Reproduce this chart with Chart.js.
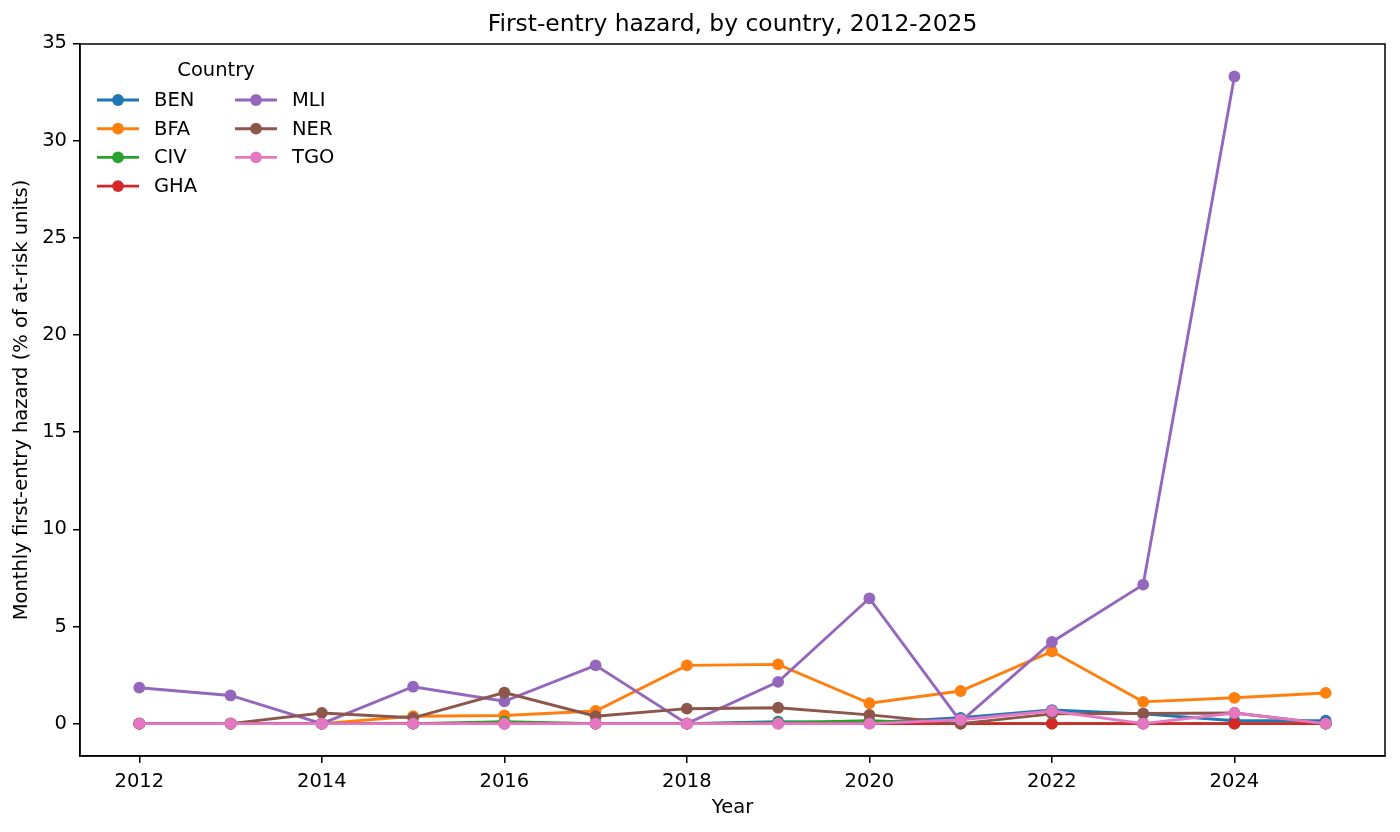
<!DOCTYPE html>
<html>
<head>
<meta charset="utf-8">
<script src="https://cdn.jsdelivr.net/npm/chart.js@4.4.1/dist/chart.umd.min.js"></script>
<style>
  html, body { margin: 0; padding: 0; background: #fff; }
  #wrap { width: 1400px; height: 832px; }
</style>
</head>
<body>
<div id="wrap"><canvas id="hazardChart" width="1400" height="832"></canvas></div>
<script>
// ---- data ----
var years = [2012, 2013, 2014, 2015, 2016, 2017, 2018, 2019, 2020, 2021, 2022, 2023, 2024, 2025];
var countries = ['BEN', 'BFA', 'CIV', 'GHA', 'MLI', 'NER', 'TGO'];
var colors = ['#1f77b4', '#ff7f0e', '#2ca02c', '#d62728', '#9467bd', '#8c564b', '#e377c2'];

var benValues = [0, 0, 0, 0, 0, 0, 0, 0.1, 0.05, 0.3, 0.7, 0.5, 0.15, 0.15];
var bfaValues = [0, 0, 0, 0.38, 0.42, 0.65, 3.0, 3.05, 1.05, 1.68, 3.72, 1.12, 1.33, 1.58];
var civValues = [0, 0, 0, 0, 0.1, 0, 0, 0.05, 0.15, 0, 0, 0, 0, 0];
var ghaValues = [0, 0, 0, 0, 0, 0, 0, 0, 0, 0, 0, 0, 0, 0];
var mliValues = [1.85, 1.45, 0, 1.9, 1.15, 3.0, 0, 2.15, 6.45, 0.1, 4.2, 7.15, 33.3, null];
var nerValues = [0, 0, 0.55, 0.3, 1.6, 0.38, 0.77, 0.82, 0.45, 0, 0.5, 0.52, 0.55, 0];
var tgoValues = [0, 0, 0, 0, 0, 0, 0, 0, 0, 0.2, 0.65, 0, 0.55, 0];

var yTickValues = [0, 5, 10, 15, 20, 25, 30, 35];
var xTickValues = [2012, 2014, 2016, 2018, 2020, 2022, 2024];

var chartTitle = 'First-entry hazard, by country, 2012-2025';
var seriesValues = [benValues, bfaValues, civValues, ghaValues, mliValues, nerValues, tgoValues];
var FONT = "'DejaVu Sans', sans-serif";

var datasets = countries.map(function(name, i){
	return {
		label: name,
		data: years.map(function(y, k){ return {x: y, y: seriesValues[i][k]}; }),
		borderColor: colors[i],
		backgroundColor: colors[i],
		borderWidth: 2.9,
		pointRadius: 5.9,
		pointHoverRadius: 5.9,
		pointBorderWidth: 0,
		tension: 0,
		order: countries.length - i   // later series on top, like matplotlib
	};
});

// title over the plot, frame round the plot + legend box in the upper left
var framePlugin = {
	id: 'framePlugin',
	afterDraw: function(chart)
	{
		var ctx = chart.ctx, a = chart.chartArea;
		ctx.save();
		ctx.strokeStyle = '#000';
		ctx.lineWidth = 1.5;
		ctx.strokeRect(a.left, a.top, a.right - a.left, a.bottom - a.top);

		// title centred on the axes, not the canvas
		ctx.fillStyle = '#000';
		ctx.font = '23.4px ' + FONT;
		ctx.textAlign = 'center';
		ctx.textBaseline = 'middle';
		ctx.fillText(chartTitle, (a.left + a.right) / 2, 25);

		// legend
		ctx.font = '19.5px ' + FONT;
		ctx.fillText('Country', 216, 71);
		ctx.textAlign = 'left';
		var cols = [{x: 97, rows: [0, 1, 2, 3]}, {x: 235, rows: [4, 5, 6]}];
		cols.forEach(function(col){
			col.rows.forEach(function(idx, r){
				var y = 100 + r * 28.7;
				ctx.strokeStyle = colors[idx];
				ctx.lineWidth = 2.9;
				ctx.beginPath();
				ctx.moveTo(col.x, y);
				ctx.lineTo(col.x + 42, y);
				ctx.stroke();
				ctx.fillStyle = colors[idx];
				ctx.beginPath();
				ctx.arc(col.x + 21, y, 5.9, 0, Math.PI * 2);
				ctx.fill();
				ctx.fillStyle = '#000';
				ctx.fillText(countries[idx], col.x + 57, y + 1);
			});
		});
		ctx.restore();
	}
};

var chart = new Chart(document.getElementById('hazardChart'), {
	type: 'line',
	data: { datasets: datasets },
	options: {
		responsive: false,
		animation: false,
		layout: { padding: { top: 44, right: 15, bottom: 12, left: 10 } },
		plugins: {
			legend: { display: false },
			tooltip: { enabled: false },
			title: { display: false }
		},
		scales: {
			x: {
				type: 'linear',
				min: 2011.35,
				max: 2025.65,
				afterBuildTicks: function(axis){ axis.ticks = xTickValues.map(function(v){ return {value: v}; }); },
				afterFit: function(axis){ axis.height = 64; },
				ticks: {
					color: '#000',
					font: { family: FONT, size: 19.5 },
					padding: 7,
					maxRotation: 0,
					callback: function(v){ return String(v); }
				},
				grid: { display: true, drawOnChartArea: false, drawTicks: true, tickLength: 7, color: '#000', lineWidth: 1.5 },
				border: { display: true, color: '#000', width: 1.5 },
				title: {
					display: true,
					text: 'Year',
					color: '#000',
					font: { family: FONT, size: 19.5 },
					padding: { top: 0, bottom: 0 }
				}
			},
			y: {
				type: 'linear',
				min: -1.665,
				max: 34.97,
				afterBuildTicks: function(axis){ axis.ticks = yTickValues.map(function(v){ return {value: v}; }); },
				afterFit: function(axis){ axis.width = 70; },
				ticks: {
					color: '#000',
					font: { family: FONT, size: 19.5 },
					padding: 6,
					callback: function(v){ return String(v); }
				},
				grid: { display: true, drawOnChartArea: false, drawTicks: true, tickLength: 7, color: '#000', lineWidth: 1.5 },
				border: { display: true, color: '#000', width: 1.5 },
				title: {
					display: true,
					text: 'Monthly first-entry hazard (% of at-risk units)',
					color: '#000',
					font: { family: FONT, size: 19.5 },
					padding: { top: 0, bottom: 0 }
				}
			}
		}
	},
	plugins: [framePlugin]
});
</script>
</body>
</html>
